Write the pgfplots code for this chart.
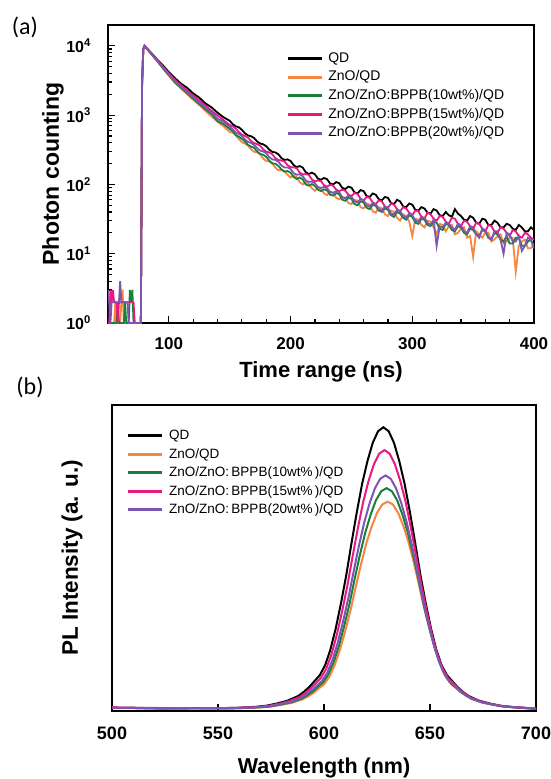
\documentclass[border=0pt]{standalone}
\usepackage{pgfplots}
\pgfplotsset{compat=1.18}
\usepackage{pgfplotstable}
\usepackage{fontspec}
\setmainfont{Liberation Sans}
\newfontfamily\carlito{Carlito}

\definecolor{cQD}{RGB}{0,0,0}
\definecolor{cZnO}{RGB}{246,134,64}
\definecolor{cTen}{RGB}{24,128,56}
\definecolor{cFif}{RGB}{234,24,128}
\definecolor{cTw}{RGB}{124,86,178}

% TRPL decay, counts
\pgfplotstableread{
t QD ZnO Z10 Z15 Z20
50 2 1 1 1 3
51 1 1 1 1 2
52 1 1 1 3 1
53 1 1 1 2 2
54 1 1 1 3 2
55 1 1 1 2 2
56 1 2 1 2 2
57 1 1 1 2 2
58 1 1 2 1 2
59 1 1 1 2 2
60 1 1 1 2 4
61 1 2 1 2 2
62 1 3 1 2 2
63 1 1 1 2 2
64 1 1 2 2 2
65 1 1 1 2 2
66 1 1 1 2 2
67 1 1 1 2 1
68 1 1 3 2 1
69 1 1 2 2 1
70 1 1 3 2 1
71 1 1 1 2 1
72 1 1 1 1 1
73 1 1 1 1 1
74 1 1 1 1 1
75 1 1 1 1 1
76 1 1 1 1 1
77 1 1 1 1 1
78 3000 2500 2800 2600 3200
79 9000 8800 8900 9000 9100
80 10000 10000 10000 10000 10000
85 8100 7750 7920 8010 7850
90 6450 6100 6200 6330 6260
95 5260 4750 4800 5060 4910
100 4180 3700 3790 4040 3870
105 3420 2920 2980 3220 3080
110 2850 2420 2480 2710 2560
115 2480 2010 2080 2280 2160
120 2060 1660 1730 1930 1810
125 1790 1400 1450 1630 1520
130 1480 1155 1215 1380 1275
135 1300 960 1040 1160 1100
140 1085 800 820 990 890
145 930 690 740 845 800
150 830 570 630 720 680
152.5 740 560 585 690 625
155 690 510 515 640 560
157.5 668 455 488 570 535
160 615 405 455 525 500
162.5 548 390 418 502 448
165 510 365 372 475 410
167.5 496 322 352 425 398
170 468 296 338 395 372
172.5 418 290 300 382 335
175 390 272 276 362 308
177.5 380 236 268 322 300
180 356 218 250 298 282
182.5 318 214 220 290 248
185 295 200 202 272 230
187.5 290 175 198 240 226
190 272 160 185 225 212
192.5 240 162 165 222 188
195 226 155 153 214 176
197.5 230 138 156 190 176
200 218 126 148 178 167
202.5 190 134 128 176 146
205 178 128 120 172 138
207.5 184 108 126 148 140
210 175 100 118 140 132
212.5 150 108 100 141 114
215 141 102 96 137 109
217.5 148 88 101 118 110
220 140 81 95 111 104
222.5 121 90 84 114 92
225 117 86 80 112 89
227.5 124 74 85 97 92
230 119 70 82 93 88
232.5 103 78 71 99 78
235 100 75 69 96 76
237.5 108 64 75 84 80
240 104 61 72 80 77
242.5 89 66 60 84 65
245 86 64 58 81 63
247.5 93 54 64 71 69
250 90 52 62 68 66
252.5 77 60 52 75 57
255 74 58 50 73 55
257.5 83 47 57 62 62
260 80 45 55 59 59
262.5 68 53 46 66 50
265 66 51 44 64 48
267.5 74 41 51 55 54
270 71 39 49 52 52
272.5 61 47 42 59 44
275 59 45 40 57 42
277.5 66 37 45 48 48
280 64 35 43 46 46
282.5 54 42 36 53 38
285 52 40 34 51 37
287.5 60 33 40 44 43
290 57 30 38 41 41
292.5 48 37 33 47 35
295 47 35 31 45 33
297.5 53 29 36 39 38
300 51 18 34 36 36
302.5 43 32 28 42 30
305 42 31 27 41 29
307.5 47 26 32 34 34
310 45 24 31 32 33
312.5 39 30 26 39 28
315 38 29 25 37 26
317.5 44 24 29 32 31
320 42 19 28 30 13
322.5 36 27 23 35 25
325 35 26 22 34 24
327.5 40 21 27 29 28
330 36 25 26 27 27
332.5 34 26 22 33 24
335 44 19 21 32 22
337.5 38 20 25 27 27
340 35 23 24 25 26
342.5 31 24 20 30 21
345 30 17 19 29 20
347.5 35 18 23 25 25
350 33 9 22 23 24
352.5 28 21 19 28 19
355 27 19 18 27 17
357.5 32 17 22 23 23
360 31 20 21 21 22
362.5 26 20 17 26 17
365 26 15 16 25 16
367.5 30 16 20 21 21
370 28 18 19 20 21
372.5 24 19 16 24 16
375 24 14 15 23 10
377.5 27 15 18 20 20
380 26 17 14 18 19
382.5 23 17 14 22 15
385 22 5.5 17 21 15
387.5 26 13 17 18 18
390 24 15 13 17 11
392.5 21 16 13 20 13
395 21 12 15 19 17
397.5 24 12 16 17 16
400 22 14 12 16 12
}\decay

% PL spectra, normalised
\pgfplotstableread{
xQD yQD xZnO yZnO xTen yTen xFif yFif xTw yTw
496 .012 498 .011 497.5 .012 496.5 .013 497 .012
508 .011 510 .010 509.5 .011 508.5 .012 509 .011
518 .010 520 .010 519.5 .009 518.5 .010 519 .011
528 .009 530 .009 529.5 .010 528.5 .009 529 .010
538 .010 540 .009 539.5 .010 538.5 .010 539 .010
548 .010 550 .009 549.5 .009 548.5 .010 549 .010
558 .011 560 .010 559.5 .010 558.5 .011 559 .010
568 .015 570 .013 569.5 .013 568.5 .014 569 .014
573 .019 575 .016 574.5 .016 573.5 .018 574 .017
578 .027 580 .022 579.5 .023 578.5 .025 579 .024
583 .037 585 .029 584.5 .031 583.5 .035 584 .032
588 .054 590 .042 589.5 .044 588.5 .050 589 .046
590.5 .068 592.5 .052 592 .055 591 .063 591.5 .058
593 .085 595 .064 594.5 .068 593.5 .079 594 .072
595.5 .106 597.5 .080 597 .085 596 .098 596.5 .089
598 .127 600 .095 599.5 .101 598.5 .117 599 .106
600.5 .162 602.5 .121 602 .129 601 .149 601.5 .135
603 .217 605 .162 604.5 .172 603.5 .200 604 .181
605.5 .292 607.5 .217 607 .230 606 .269 606.5 .243
608 .382 610 .283 609.5 .301 608.5 .352 609 .318
610.5 .482 612.5 .357 612 .379 611 .444 611.5 .401
613 .597 615 .441 614.5 .470 613.5 .549 614 .496
615.5 .707 617.5 .522 617 .556 616 .650 616.5 .587
618 .807 620 .596 619.5 .634 618.5 .742 619 .670
620.5 .887 622.5 .655 622 .697 621 .816 621.5 .737
623 .952 625 .703 624.5 .748 623.5 .875 624 .790
625.5 .993 627.5 .733 627 .780 626 .913 626.5 .824
628 1.007 630 .743 629.5 .791 628.5 .926 629 .836
630.5 .993 632.5 .733 632 .780 631 .913 631.5 .824
633 .952 635 .703 634.5 .748 633.5 .875 634 .790
635.5 .887 637.5 .655 637 .697 636 .816 636.5 .737
638 .807 640 .596 639.5 .634 638.5 .742 639 .670
640.5 .707 642.5 .522 642 .556 641 .650 641.5 .587
643 .597 645 .441 644.5 .470 643.5 .549 644 .496
645.5 .482 647.5 .357 647 .379 646 .444 646.5 .401
648 .382 650 .283 649.5 .301 648.5 .352 649 .318
650.5 .292 652.5 .217 652 .230 651 .269 651.5 .243
653 .217 655 .162 654.5 .172 653.5 .200 654 .181
655.5 .162 657.5 .121 657 .129 656 .149 656.5 .135
658 .127 660 .095 659.5 .101 658.5 .117 659 .106
660.5 .106 662.5 .080 662 .085 661 .098 661.5 .089
663 .085 665 .064 664.5 .068 663.5 .079 664 .072
665.5 .068 667.5 .052 667 .055 666 .063 666.5 .058
668 .054 670 .042 669.5 .044 668.5 .050 669 .046
673 .037 675 .029 674.5 .031 673.5 .035 674 .032
678 .027 680 .022 679.5 .023 678.5 .025 679 .024
683 .019 685 .016 684.5 .016 683.5 .018 684 .017
688 .015 690 .013 689.5 .013 688.5 .014 689 .014
702 .007 704 .006 703.5 .006 702.5 .007 703 .007
}\pl

\pgfplotsset{
  panel/.style={
    scale only axis,
    tick align=inside,
    xtick pos=bottom, ytick pos=left,
    axis line style={line width=2.6pt},
    tick style={black, line width=1.2pt},
    major tick length=7pt, minor tick length=4pt,
    /pgf/number format/assume math mode=true,
    legend cell align=left,
    legend image code/.code={\draw[##1, line width=3pt] (0pt,0pt) -- (34pt,0pt);},
  },
}

\begin{document}
\begin{tikzpicture}
\path[use as bounding box] (0pt,0pt) rectangle (551pt,-779pt);
\node[font=\carlito\fontsize{24}{24}\selectfont] at (25pt,-27pt) {(a)};
\node[font=\carlito\fontsize{24}{24}\selectfont] at (30pt,-387pt) {(b)};

\begin{axis}[panel,
  at={(108pt,-323pt)}, anchor=south west,
  width=426pt, height=298pt,
  xmin=50, xmax=400, ymode=log, ymin=1, ymax=2e4,
  xtick={100,200,300,400}, minor x tick num=4,
  ytick={1,10,100,1000,10000},
  yticklabels={10\textsuperscript{0},10\textsuperscript{1},10\textsuperscript{2},10\textsuperscript{3},10\textsuperscript{4}},
  minor ytick={2,3,4,5,6,7,8,9,20,30,40,50,60,70,80,90,200,300,400,500,600,700,800,900,2000,3000,4000,5000,6000,7000,8000,9000},
  xticklabel style={font=\bfseries\fontsize{17}{17}\selectfont, inner sep=0pt, yshift=-14pt},
  yticklabel style={font=\bfseries\fontsize{16}{16}\selectfont, inner sep=0pt, xshift=-17pt},
  xlabel={Time range (ns)},
  xlabel style={at={(axis description cs:0.5,-0.164)}, anchor=center, font=\bfseries\fontsize{22}{22}\selectfont},
  ylabel={Photon counting},
  ylabel style={at={(axis description cs:-0.129,0.5)}, anchor=center, font=\bfseries\fontsize{23}{23}\selectfont},
  legend style={at={(axis description cs:0.411,0.918)}, anchor=north west, draw=none, fill=none,
    font=\fontsize{14}{14}\selectfont, row sep=5.2pt, column sep=5pt,
    nodes={inner sep=0pt, text height=10.5pt, text depth=3pt}},
]
\addplot[cQD, line width=1.8pt] table[x=t, y=QD] {\decay};
\addlegendentry{QD}
\addplot[cZnO, line width=1.8pt] table[x=t, y=ZnO] {\decay};
\addlegendentry{ZnO/QD}
\addplot[cTen, line width=1.8pt] table[x=t, y=Z10] {\decay};
\addlegendentry{ZnO/ZnO:BPPB(10wt\%)/QD}
\addplot[cFif, line width=1.8pt] table[x=t, y=Z15] {\decay};
\addlegendentry{ZnO/ZnO:BPPB(15wt\%)/QD}
\addplot[cTw, line width=1.8pt] table[x=t, y=Z20] {\decay};
\addlegendentry{ZnO/ZnO:BPPB(20wt\%)/QD}
\end{axis}

\begin{axis}[panel,
  at={(112pt,-711pt)}, anchor=south west,
  width=424pt, height=306pt,
  xmin=500, xmax=700, ymin=0, ymax=1.086,
  xtick={500,550,600,650,700}, ytick=\empty,
  xticklabel style={font=\bfseries\fontsize{18}{18}\selectfont, inner sep=0pt, yshift=-15.5pt},
  xlabel={Wavelength (nm)},
  xlabel style={at={(axis description cs:0.5,-0.186)}, anchor=center, font=\bfseries\fontsize{21.5}{21.5}\selectfont},
  ylabel={PL Intensity (a. u.)},
  ylabel style={at={(axis description cs:-0.094,0.5)}, anchor=center, font=\bfseries\fontsize{22.5}{22.5}\selectfont},
  legend style={at={(axis description cs:0.026,0.928)}, anchor=north west, draw=none, fill=none,
    font=\fontsize{13.5}{13.5}\selectfont, row sep=5pt, column sep=6pt,
    nodes={inner sep=0pt, text height=10.5pt, text depth=3pt}},
]
\addplot[cQD, line width=2pt] table[x=xQD, y=yQD] {\pl};
\addlegendentry{QD}
\addplot[cZnO, line width=2pt] table[x=xZnO, y=yZnO] {\pl};
\addlegendentry{ZnO/QD}
\addplot[cTen, line width=2pt] table[x=xTen, y=yTen] {\pl};
\addlegendentry{ZnO/ZnO:\,BPPB(10wt\%\,)/QD}
\addplot[cFif, line width=2pt] table[x=xFif, y=yFif] {\pl};
\addlegendentry{ZnO/ZnO:\,BPPB(15wt\%\,)/QD}
\addplot[cTw, line width=2pt] table[x=xTw, y=yTw] {\pl};
\addlegendentry{ZnO/ZnO:\,BPPB(20wt\%\,)/QD}
\end{axis}
\end{tikzpicture}
\end{document}
